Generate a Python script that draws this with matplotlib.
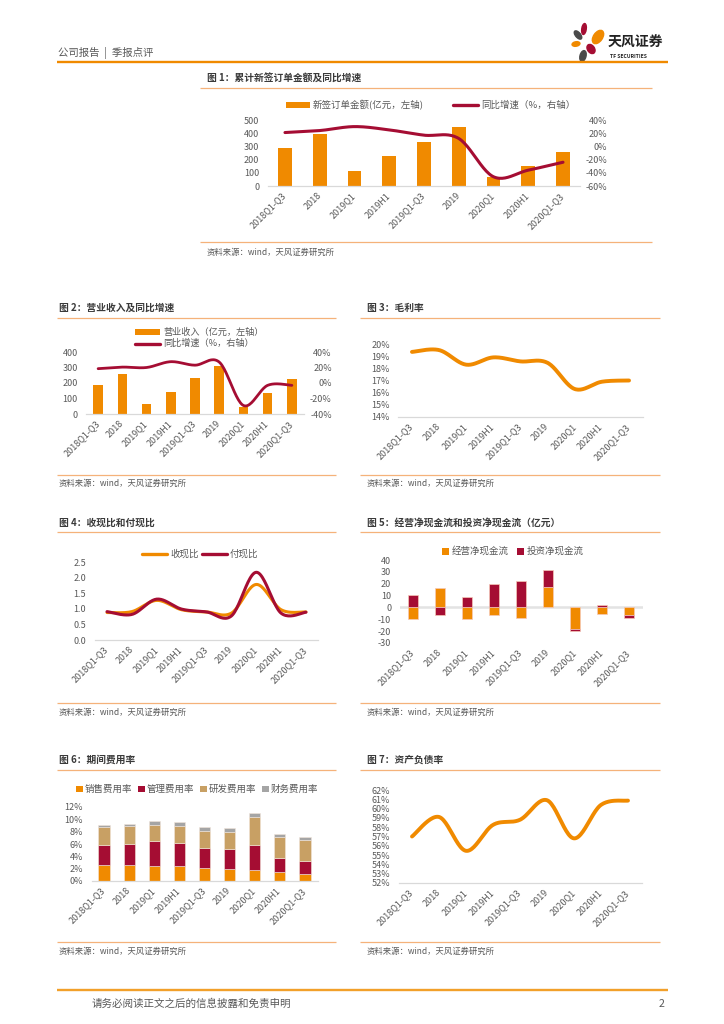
import numpy as np
import matplotlib
matplotlib.use('Agg')
import matplotlib.pyplot as plt
from matplotlib.patches import Rectangle, Ellipse

plt.rcParams['font.family'] = ['Noto Sans CJK SC', 'DejaVu Sans']

# ---------------- data ----------------
periods = ['2018Q1-Q3', '2018', '2019Q1', '2019H1', '2019Q1-Q3', '2019',
           '2020Q1', '2020H1', '2020Q1-Q3']
orders = [290, 395, 110, 230, 335, 445, 65, 148, 255]
orders_yoy = [21, 24, 30, 25, 17, 12, -46, -36, -24]
revenue = [188, 255, 65, 142, 232, 312, 45, 137, 223]
revenue_yoy = [18.5, 20.5, 20, 27.5, 23, 27, -29, -3, -3]
gross_margin = [19.35, 19.5, 18.3, 18.9, 18.57, 18.45, 16.3, 16.9, 17.0]
cash_recv_ratio = [0.88, 0.91, 1.27, 0.97, 0.90, 0.86, 1.78, 0.97, 0.90]
cash_pay_ratio = [0.91, 0.82, 1.31, 0.99, 0.90, 0.77, 2.17, 0.86, 0.89]
op_cf = [-9.8, 16.8, -9.5, -6.0, -9.0, 17.0, -18.2, -5.6, -6.4]
inv_cf = [10.6, -6.0, 8.4, 19.9, 22.4, 14.6, -2.0, 2.2, -2.8]
sales_exp = [2.54, 2.54, 2.38, 2.49, 2.16, 1.95, 1.73, 1.46, 1.14]
admin_exp = [3.35, 3.51, 4.11, 3.67, 3.19, 3.24, 4.11, 2.27, 2.16]
rd_exp = [2.86, 2.87, 2.65, 2.81, 2.81, 2.81, 4.48, 3.35, 3.29]
fin_exp = [0.27, 0.32, 0.59, 0.60, 0.60, 0.60, 0.76, 0.54, 0.49]
debt_ratio = [57.0, 59.1, 55.46, 58.25, 58.8, 60.9, 56.8, 60.4, 60.86]

# ---------------- style ----------------
ORANGE = '#F08A00'
RED = '#A50D33'
TAN = '#C8A064'
GRAY = '#A5A5A5'
TXT = '#595959'
TITLE = '#3A3A3A'
SEP = '#F5B27A'
AXL = '#D9D9D9'
TICK_FS = 6.5

W, H = 724, 1024
fig = plt.figure(figsize=(W / 100, H / 100), dpi=100)

ov = fig.add_axes([0, 0, 1, 1])
ov.set_xlim(0, W)
ov.set_ylim(H, 0)
ov.axis('off')


def add_ax(x0, y0, x1, y1):
    return fig.add_axes([x0 / W, 1 - y1 / H, (x1 - x0) / W, (y1 - y0) / H])


def smooth(y, n=24):
    """Excel-like smoothed line (Catmull-Rom as cubic Bezier) for drawing."""
    y = np.asarray(y, float)
    x = np.arange(len(y), dtype=float)
    P = np.column_stack([x, y])
    out = []
    for i in range(len(P) - 1):
        p0 = P[i - 1] if i > 0 else P[i]
        p1 = P[i]
        p2 = P[i + 1]
        p3 = P[i + 2] if i + 2 < len(P) else P[i + 1]
        c1 = p1 + (p2 - p0) / 6
        c2 = p2 - (p3 - p1) / 6
        t = np.linspace(0, 1, n, endpoint=(i == len(P) - 2))[:, None]
        seg = ((1 - t) ** 3) * p1 + 3 * ((1 - t) ** 2) * t * c1 + 3 * (1 - t) * t ** 2 * c2 + t ** 3 * p2
        out.append(seg)
    out = np.vstack(out)
    return out[:, 0], out[:, 1]


def style(ax, ylim, yticks, fmt, ypad=6):
    for s in ['top', 'right', 'left']:
        ax.spines[s].set_visible(False)
    ax.spines['bottom'].set_color(AXL)
    ax.spines['bottom'].set_linewidth(0.9)
    ax.set_xlim(-0.5, len(periods) - 0.5)
    ax.set_ylim(*ylim)
    ax.set_yticks(yticks)
    ax.set_yticklabels([fmt(v) for v in yticks])
    ax.set_xticks(range(len(periods)))
    ax.set_xticklabels(periods, rotation=45, ha='right', va='center',
                       rotation_mode='anchor')
    ax.tick_params(axis='x', length=0, labelsize=TICK_FS, labelcolor=TXT, pad=6)
    ax.tick_params(axis='y', length=0, labelsize=TICK_FS, labelcolor=TXT, pad=ypad)
    ax.patch.set_alpha(0)


def style_right(ax2, ylim, yticks, fmt, pad=19.5):
    for s in ['top', 'right', 'left', 'bottom']:
        ax2.spines[s].set_visible(False)
    ax2.set_ylim(*ylim)
    ax2.set_yticks(yticks)
    ax2.set_yticklabels([fmt(v) for v in yticks], ha='right')
    ax2.tick_params(axis='y', length=0, labelsize=TICK_FS, labelcolor=TXT, pad=pad)


def frame(x0, x1, title, ty, uy, by, sy, tx):
    ov.text(tx, ty, title, fontsize=7, color=TITLE, fontweight='bold', va='center', ha='left')
    ov.plot([x0, x1], [uy, uy], color=SEP, lw=0.9, solid_capstyle='butt')
    ov.plot([x0, x1], [by, by], color=SEP, lw=0.9, solid_capstyle='butt')
    ov.text(tx, sy, '资料来源：wind，天风证券研究所', fontsize=6, color=TXT, va='center', ha='left')


def leg_rect(x, y, w, h, color, label, fs=6.8, gap=3):
    ov.add_patch(Rectangle((x, y - h / 2), w, h, color=color, lw=0))
    ov.text(x + w + gap, y, label, fontsize=fs, color=TXT, va='center', ha='left')


def leg_line(x0, x1, y, color, label, fs=6.8, gap=3, lw=2.4):
    ov.plot([x0, x1], [y, y], color=color, lw=lw, solid_capstyle='round')
    ov.text(x1 + gap, y, label, fontsize=fs, color=TXT, va='center', ha='left')


pct0 = lambda v: f'{v:.0f}%'
int0 = lambda v: f'{v:.0f}'
x = np.arange(len(periods))

# ---------------- header / footer ----------------
ov.text(58, 53, '公司报告  |  季报点评', fontsize=7.5, color=TXT, va='center', ha='left')
ov.plot([57, 668], [61.5, 61.5], color=ORANGE, lw=1.7, solid_capstyle='butt')
# logo
ov.add_patch(Ellipse((584, 29), 4.5, 11, angle=8, color=RED))
ov.add_patch(Ellipse((578, 35), 5, 10, angle=-40, color='#4A4A4A'))
ov.add_patch(Ellipse((598, 37), 9, 15, angle=35, color=ORANGE))
ov.add_patch(Ellipse((576, 44), 8, 4.5, angle=-10, color=ORANGE))
ov.add_patch(Ellipse((591, 49), 7, 10, angle=-35, color=RED))
ov.add_patch(Ellipse((583, 56), 6, 11, angle=15, color='#4A4A4A'))
ov.text(608, 43, '天风证券', fontsize=10, color='#222222', fontweight='bold', va='center', ha='left')
ov.text(610, 56.5, 'TF SECURITIES', fontsize=3.6, color='#222222', fontweight='bold', va='center', ha='left')

ov.plot([57, 668], [990, 990], color='#F2A02A', lw=1.7, solid_capstyle='butt')
ov.text(92, 1004, '请务必阅读正文之后的信息披露和免责申明', fontsize=7.6, color=TXT, va='center', ha='left')
ov.text(664, 1004, '2', fontsize=7.6, color=TXT, va='center', ha='right')

# ---------------- Figure 1 ----------------
frame(200, 652, '图 1：累计新签订单金额及同比增速', 79, 88, 241.5, 252, 207)
leg_rect(286, 105, 24, 6.5, ORANGE, '新签订单金额(亿元，左轴)')
leg_line(453, 478, 105, RED, '同比增速（%，右轴）')
ax1 = add_ax(267.6, 120, 580.4, 186)
ax1.bar(x, orders, width=0.39, color=ORANGE, zorder=2)
style(ax1, (0, 500), list(range(0, 501, 100)), int0)
ax1r = ax1.twinx()
style_right(ax1r, (-60, 40), list(range(-60, 41, 20)), pct0, pad=19.5)
sx, sy = smooth(orders_yoy)
ax1r.plot(sx, sy, color=RED, lw=2.2, solid_capstyle='round', zorder=3)

# ---------------- Figure 2 ----------------
frame(57, 336, '图 2：营业收入及同比增速', 308, 318, 475, 483, 59)
leg_rect(135, 332, 25, 6.5, ORANGE, '营业收入（亿元，左轴）', fs=6.6)
leg_line(135, 160, 343.5, RED, '同比增速（%，右轴）', fs=6.6)
ax2 = add_ax(86, 352, 304, 414)
ax2.bar(x, revenue, width=0.39, color=ORANGE, zorder=2)
style(ax2, (0, 400), list(range(0, 401, 100)), int0)
ax2r = ax2.twinx()
style_right(ax2r, (-40, 40), list(range(-40, 41, 20)), pct0, pad=20)
sx, sy = smooth(revenue_yoy)
ax2r.plot(sx, sy, color=RED, lw=2.0, solid_capstyle='round', zorder=3)

# ---------------- Figure 3 ----------------
frame(360, 660, '图 3：毛利率', 308, 318, 474.5, 483, 367)
ax3 = add_ax(398.4, 344, 642.6, 417)
style(ax3, (14, 20), list(range(14, 21)), pct0)
sx, sy = smooth(gross_margin)
ax3.plot(sx, sy, color=ORANGE, lw=2.8, solid_capstyle='round', zorder=3, clip_on=False)

# ---------------- Figure 4 ----------------
frame(57, 336, '图 4：收现比和付现比', 523, 532, 703, 712, 59)
leg_line(142, 167, 554, ORANGE, '收现比', lw=2.4)
leg_line(202, 227, 554, RED, '付现比', lw=2.4)
ax4 = add_ax(94.6, 562, 318.4, 640)
style(ax4, (0, 2.5), [0, 0.5, 1.0, 1.5, 2.0, 2.5], lambda v: f'{v:.1f}')
sx, sy = smooth(cash_recv_ratio)
ax4.plot(sx, sy, color=ORANGE, lw=2.2, solid_capstyle='round', zorder=3)
sx, sy = smooth(cash_pay_ratio)
ax4.plot(sx, sy, color=RED, lw=2.2, solid_capstyle='round', zorder=4)

# ---------------- Figure 5 ----------------
frame(360, 660, '图 5：经营净现金流和投资净现金流（亿元）', 523, 532, 703, 712, 367)
leg_rect(442, 551, 7, 7, ORANGE, '经营净现金流', fs=6.8)
leg_rect(517, 551, 7, 7, RED, '投资净现金流', fs=6.8)
ax5 = add_ax(399.5, 560, 642.5, 643)
style(ax5, (-30, 40), list(range(-30, 41, 10)), int0)
ax5.spines['bottom'].set_visible(False)
ax5.axhline(0, color='#E3E3E3', lw=1.8, zorder=1)
pos = np.zeros(len(periods))
neg = np.zeros(len(periods))
for vals, col in [(op_cf, ORANGE), (inv_cf, RED)]:
    for i, v in enumerate(vals):
        if v >= 0:
            ax5.bar(i, v, bottom=pos[i], width=0.4, color=col, edgecolor='#F6C9B8', lw=0.5, zorder=2)
            pos[i] += v
        else:
            ax5.bar(i, v, bottom=neg[i], width=0.4, color=col, edgecolor='#F6C9B8', lw=0.5, zorder=2)
            neg[i] += v

# ---------------- Figure 6 ----------------
frame(57, 336, '图 6：期间费用率', 760, 770, 942, 951, 59)
leg_rect(76, 789, 6.5, 6.5, ORANGE, '销售费用率', fs=6.8, gap=2.5)
leg_rect(138, 789, 6.5, 6.5, RED, '管理费用率', fs=6.8, gap=2.5)
leg_rect(200, 789, 6.5, 6.5, TAN, '研发费用率', fs=6.8, gap=2.5)
leg_rect(262, 789, 6.5, 6.5, GRAY, '财务费用率', fs=6.8, gap=2.5)
ax6 = add_ax(91.5, 807, 317.5, 881)
style(ax6, (0, 12), list(range(0, 13, 2)), pct0)
bottom = np.zeros(len(periods))
for vals, col in [(sales_exp, ORANGE), (admin_exp, RED), (rd_exp, TAN), (fin_exp, GRAY)]:
    ax6.bar(x, vals, bottom=bottom, width=0.45, color=col, edgecolor='#F3E6DA', lw=0.4, zorder=2)
    bottom += np.asarray(vals)

# ---------------- Figure 7 ----------------
frame(360, 660, '图 7：资产负债率', 760, 770, 942, 951, 367)
ax7 = add_ax(398.5, 790, 641.5, 883)
style(ax7, (52, 62), list(range(52, 63)), pct0)
sx, sy = smooth(debt_ratio)
ax7.plot(sx, sy, color=ORANGE, lw=2.8, solid_capstyle='round', zorder=3)

fig.savefig('out.png', dpi=100)
